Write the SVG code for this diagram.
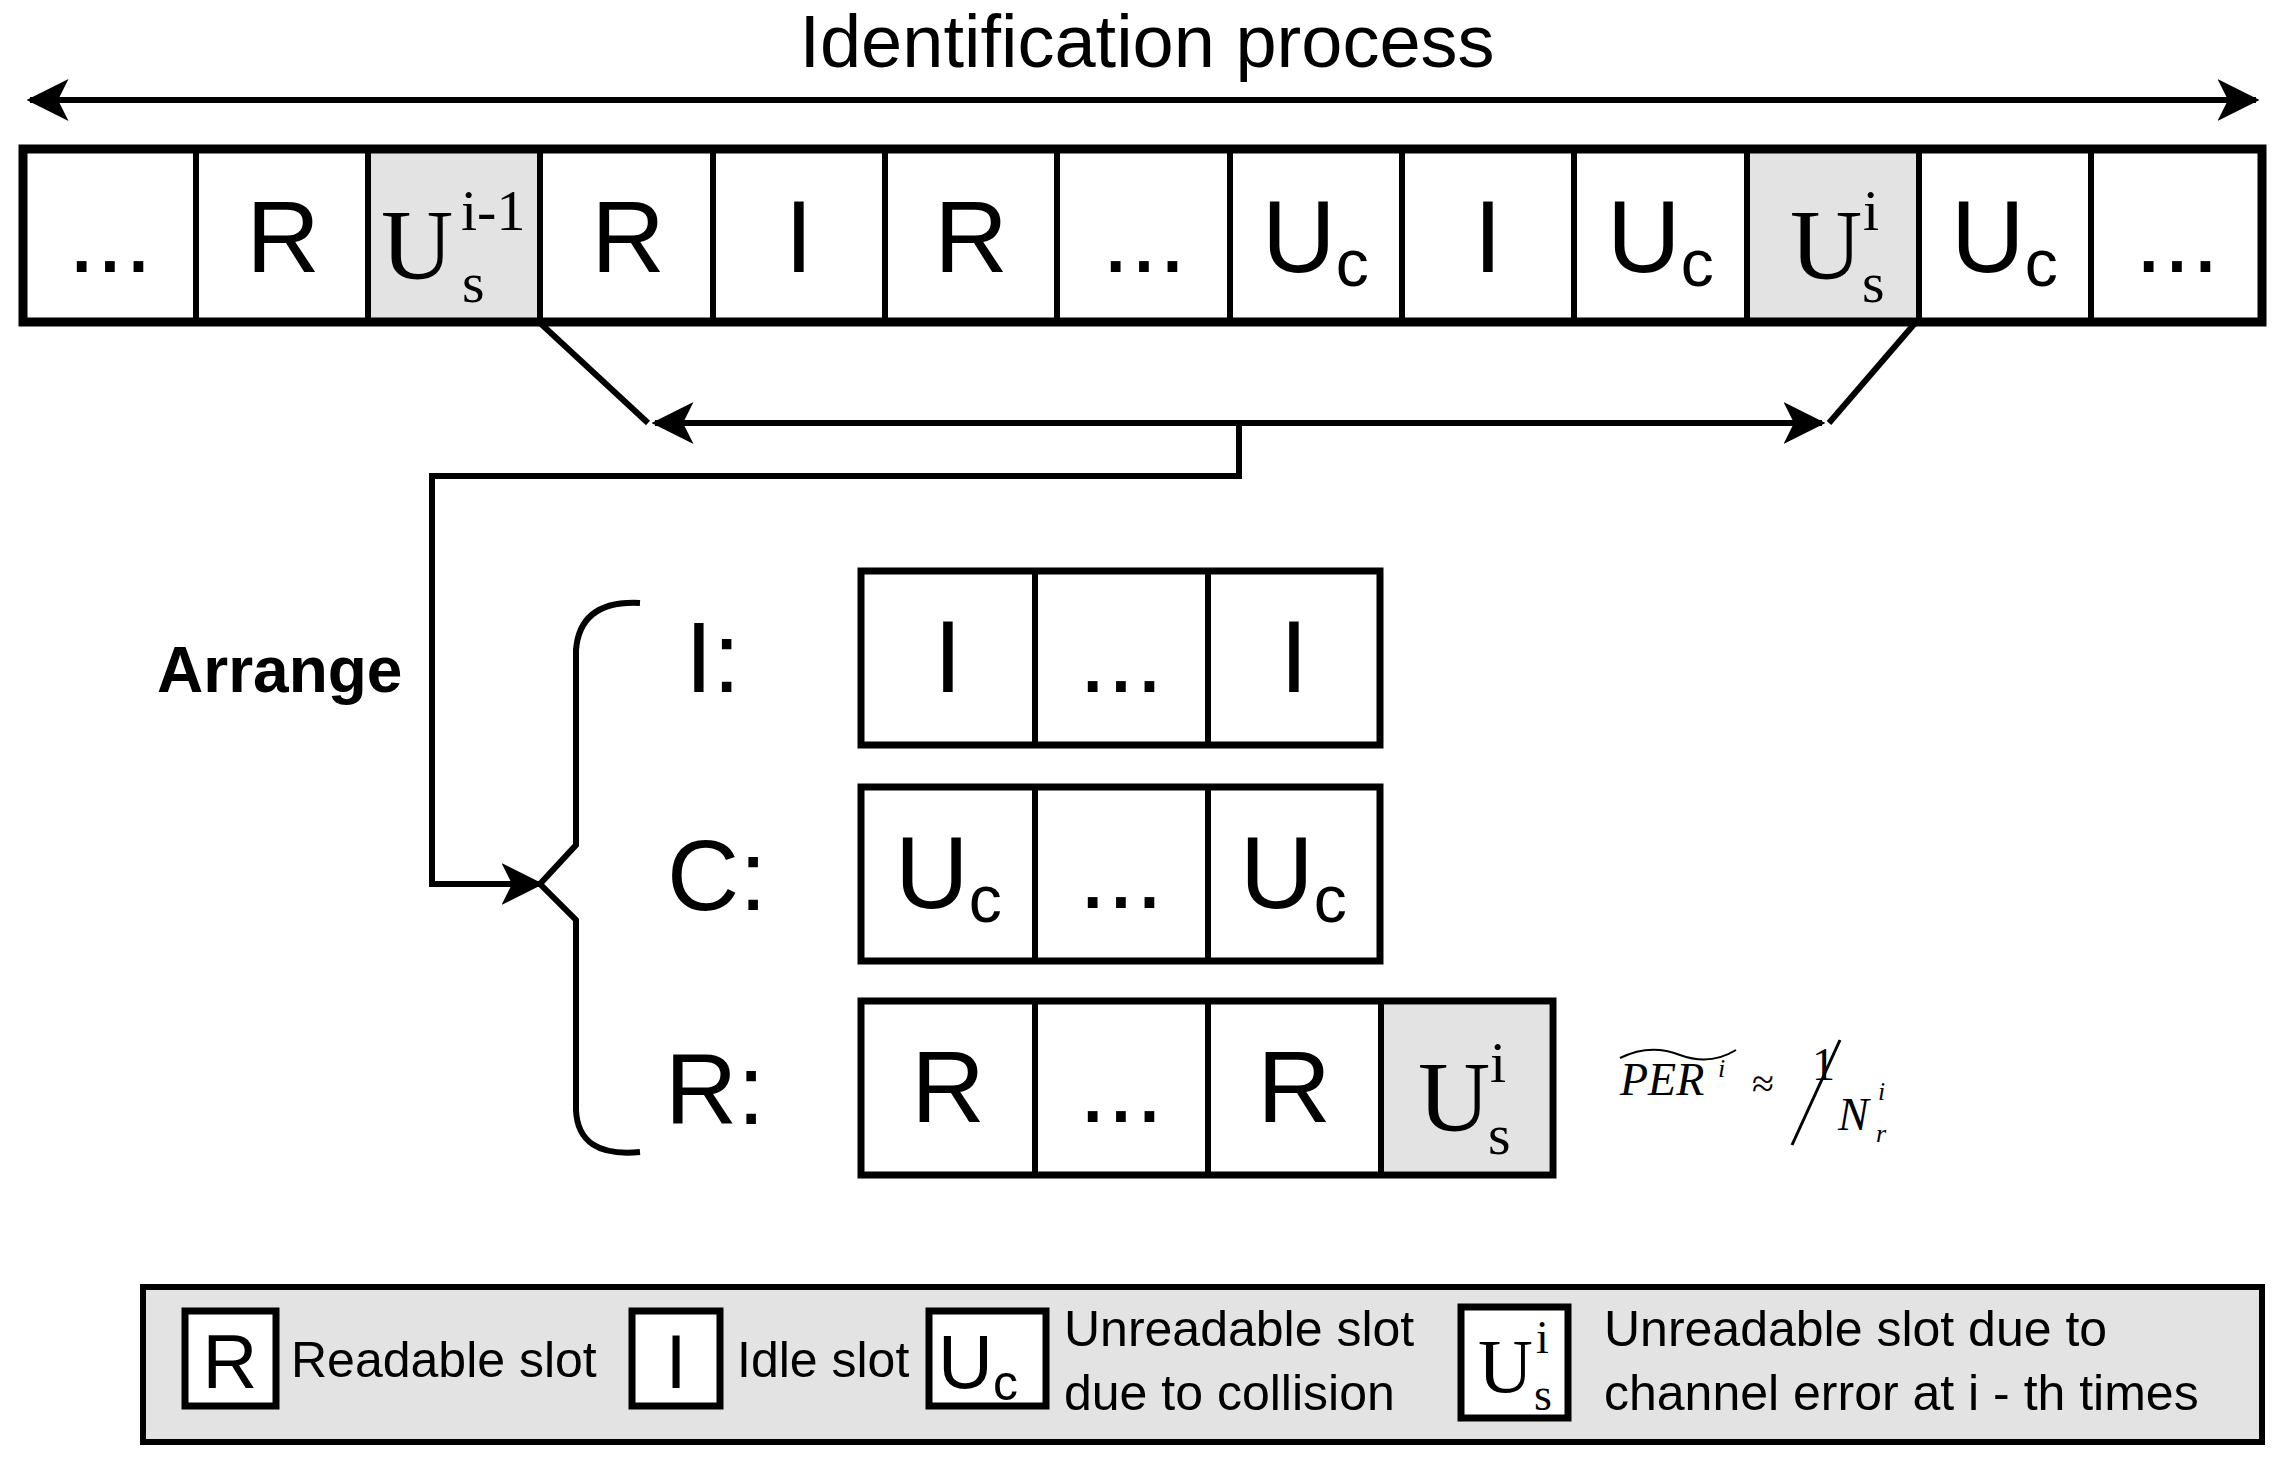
<svg xmlns="http://www.w3.org/2000/svg" width="2285" height="1462" viewBox="0 0 2285 1462">
<style>
.s{font-family:"Liberation Sans",Arial,sans-serif;fill:#000}
.t{font-family:"Liberation Serif","Times New Roman",serif;fill:#000}
.c{text-anchor:middle}
.box{fill:#fff;stroke:#000;stroke-width:7}
.g{fill:#e3e3e3}
.ln{stroke:#000;stroke-width:6;fill:none}
</style>
<defs>
<marker id="ah2" viewBox="0 0 12 12" refX="11" refY="6" markerWidth="7" markerHeight="7" orient="auto-start-reverse">
<path d="M0,0 L12,6 L0,12 L3,6 Z" fill="#000"/>
</marker>
</defs>
<text class="s c" x="1147" y="67" font-size="74">Identification process</text>

<g id="connectors">
<line class="ln" x1="30" y1="100" x2="2256" y2="100" marker-start="url(#ah2)" marker-end="url(#ah2)"/>
<polyline class="ln" points="539,322 648,423"/>
<polyline class="ln" points="1916,322 1829,423"/>
<line class="ln" x1="655" y1="423" x2="1822" y2="423" marker-start="url(#ah2)" marker-end="url(#ah2)"/>
<polyline class="ln" points="1239,423 1239,476 432,476 432,884 540,884" marker-end="url(#ah2)"/>
<path class="ln" d="M640,603 Q580,600 576,650 L576,845 L540,884 L576,920 L576,1110 Q578,1158 640,1152"/>
</g>

<g id="top-row">
<rect class="box" x="23" y="149" width="2239" height="173"/>
<rect class="g" x="369" y="153" width="170" height="165"/>
<rect class="g" x="1748" y="153" width="168" height="165"/>
<g class="ln" stroke-width="6">
<line x1="196" y1="149" x2="196" y2="322"/><line x1="368" y1="149" x2="368" y2="322"/>
<line x1="540" y1="149" x2="540" y2="322"/><line x1="713" y1="149" x2="713" y2="322"/>
<line x1="885" y1="149" x2="885" y2="322"/><line x1="1057" y1="149" x2="1057" y2="322"/>
<line x1="1230" y1="149" x2="1230" y2="322"/><line x1="1402" y1="149" x2="1402" y2="322"/>
<line x1="1574" y1="149" x2="1574" y2="322"/><line x1="1747" y1="149" x2="1747" y2="322"/>
<line x1="1919" y1="149" x2="1919" y2="322"/><line x1="2091" y1="149" x2="2091" y2="322"/>
</g>
<rect x="23" y="149" width="2239" height="173" fill="none" stroke="#000" stroke-width="9"/>
<g class="s c" font-size="102">
<text x="110" y="272">...</text>
<text x="283" y="272">R</text>
<text x="628" y="272">R</text>
<text x="799" y="272">I</text>
<text x="971" y="272">R</text>
<text x="1144" y="272">...</text>
<text x="1488" y="272">I</text>
<text x="2177" y="272">...</text>
</g>
<g class="s" font-size="102">
<text x="1262" y="272">U<tspan font-size="66" dy="14">c</tspan></text>
<text x="1607" y="272">U<tspan font-size="66" dy="14">c</tspan></text>
<text x="1951" y="272">U<tspan font-size="66" dy="14">c</tspan></text>
</g>
<text class="t" x="381" y="278" font-size="100">U</text>
<text class="t" x="461" y="230" font-size="58">i-1</text>
<text class="t" x="462" y="302" font-size="58">s</text>
<text class="t" x="1790" y="278" font-size="100">U</text>
<text class="t" x="1863" y="230" font-size="58">i</text>
<text class="t" x="1862" y="302" font-size="58">s</text>
</g>

<text class="s" x="157" y="692" font-size="64" font-weight="bold">Arrange</text>

<g id="row-I">
<text class="s" x="685" y="692" font-size="100">I:</text>
<rect class="box" x="861" y="571" width="519" height="174"/>
<line class="ln" x1="1035" y1="571" x2="1035" y2="745"/><line class="ln" x1="1208" y1="571" x2="1208" y2="745"/>
<g class="s c" font-size="102"><text x="948" y="692">I</text><text x="1121" y="692">...</text><text x="1294" y="692">I</text></g>
</g>
<g id="row-C">
<text class="s" x="667" y="910" font-size="100">C:</text>
<rect class="box" x="861" y="787" width="519" height="174"/>
<line class="ln" x1="1035" y1="787" x2="1035" y2="961"/><line class="ln" x1="1208" y1="787" x2="1208" y2="961"/>
<g class="s" font-size="102"><text x="895" y="908">U<tspan font-size="66" dy="14">c</tspan></text><text x="1240" y="908">U<tspan font-size="66" dy="14">c</tspan></text></g>
<text class="s c" x="1121" y="908" font-size="102">...</text>
</g>
<g id="row-R">
<text class="s" x="665" y="1124" font-size="100">R:</text>
<rect class="box" x="861" y="1001" width="692" height="174"/>
<rect class="g" x="1384" y="1005" width="165" height="166"/>
<line class="ln" x1="1035" y1="1001" x2="1035" y2="1175"/><line class="ln" x1="1208" y1="1001" x2="1208" y2="1175"/><line class="ln" x1="1381" y1="1001" x2="1381" y2="1175"/>
<g class="s c" font-size="102"><text x="948" y="1122">R</text><text x="1121" y="1122">...</text><text x="1294" y="1122">R</text></g>
<text class="t" x="1418" y="1130" font-size="100">U</text>
<text class="t" x="1490" y="1082" font-size="58">i</text>
<text class="t" x="1488" y="1154" font-size="58">s</text>
</g>

<g id="formula">
<text class="t" x="1620" y="1095" font-size="46" font-style="italic">PER</text>
<text class="t" x="1718" y="1077" font-size="26" font-style="italic">i</text>
<path d="M1620,1058 Q1650,1043 1680,1055 Q1710,1066 1736,1050" fill="none" stroke="#000" stroke-width="2"/>
<text class="t" x="1752" y="1097" font-size="40">≈</text>
<text class="t" x="1812" y="1080" font-size="46">1</text>
<line x1="1792" y1="1145" x2="1840" y2="1040" stroke="#000" stroke-width="3"/>
<text class="t" x="1838" y="1130" font-size="46" font-style="italic">N</text>
<text class="t" x="1878" y="1100" font-size="26" font-style="italic">i</text>
<text class="t" x="1876" y="1142" font-size="26" font-style="italic">r</text>
</g>

<g id="legend">
<rect x="143" y="1287" width="2119" height="155" fill="#e3e3e3" stroke="#000" stroke-width="6"/>
<rect class="box" x="185" y="1311" width="91" height="95" stroke-width="6"/>
<text class="s c" x="230" y="1388" font-size="76">R</text>
<text class="s" x="291" y="1377" font-size="50">Readable slot</text>
<rect class="box" x="632" y="1311" width="88" height="95" stroke-width="6"/>
<text class="s c" x="676" y="1388" font-size="76">I</text>
<text class="s" x="737" y="1377" font-size="50">Idle slot</text>
<rect class="box" x="929" y="1311" width="117" height="95" stroke-width="6"/>
<text class="s" x="938" y="1388" font-size="76">U<tspan font-size="50" dy="12">c</tspan></text>
<text class="s" x="1064" y="1346" font-size="50">Unreadable slot</text>
<text class="s" x="1064" y="1410" font-size="50">due to collision</text>
<rect class="box" x="1461" y="1307" width="107" height="111" stroke-width="6"/>
<text class="t" x="1478" y="1392" font-size="76">U</text>
<text class="t" x="1536" y="1353" font-size="46">i</text>
<text class="t" x="1534" y="1410" font-size="46">s</text>
<text class="s" x="1604" y="1346" font-size="50">Unreadable slot due to</text>
<text class="s" x="1604" y="1410" font-size="50">channel error at i - th times</text>
</g>
</svg>
